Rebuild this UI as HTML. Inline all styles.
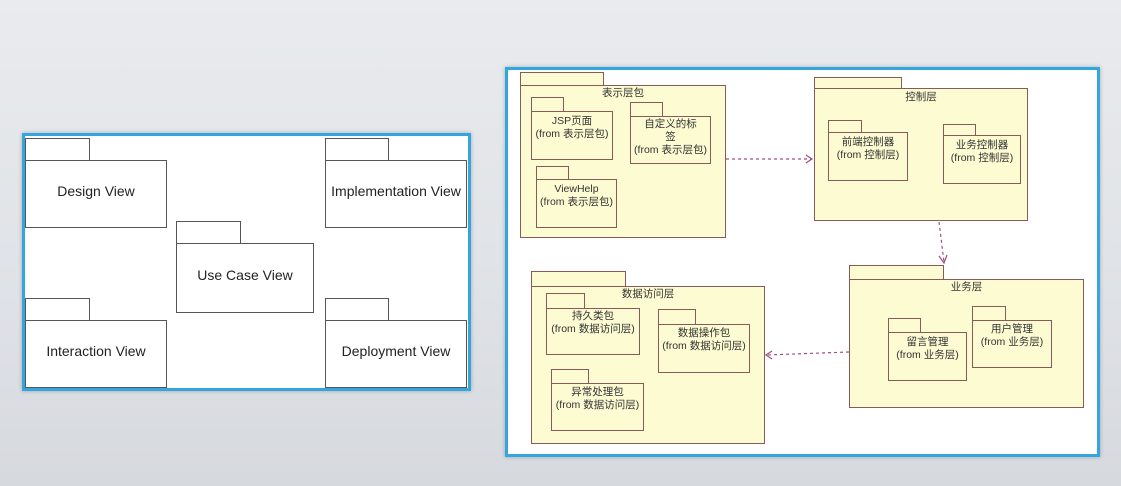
<!DOCTYPE html>
<html><head><meta charset="utf-8"><style>
body{margin:0;width:1121px;height:486px;overflow:hidden;background:linear-gradient(180deg,#e9ebee 0%,#dfe2e6 60%,#d6d9de 100%);font-family:"Liberation Sans","Noto Sans CJK SC",sans-serif;position:relative}
.a{position:absolute;box-sizing:border-box}
.panel{border:3px solid #33a6e0;background:#fff;box-shadow:0 0 4px rgba(0,0,0,.25)}
.g{border:1px solid #555;background:#fff}
.y{border:1px solid #8a5a5a;background:#fcfbd2}
.t{display:flex;align-items:center;justify-content:center;text-align:center;color:#222}
.L{font-size:14px;padding-bottom:6px}
.S{font-size:10.5px;line-height:13px;color:#333}
</style></head><body>
<div class="a panel" style="left:22px;top:133px;width:449px;height:258px"></div>
<div class="a g" style="left:25px;top:138px;width:65px;height:23px"></div>
<div class="a g t L" style="left:25px;top:160px;width:142px;height:68px">Design View</div>
<div class="a g" style="left:325px;top:138px;width:64px;height:23px"></div>
<div class="a g t L" style="left:325px;top:160px;width:142px;height:68px">Implementation View</div>
<div class="a g" style="left:176px;top:221px;width:65px;height:23px"></div>
<div class="a g t L" style="left:176px;top:243px;width:138px;height:70px;border-width:1.5px">Use Case View</div>
<div class="a g" style="left:25px;top:298px;width:65px;height:23px"></div>
<div class="a g t L" style="left:25px;top:320px;width:142px;height:68px">Interaction View</div>
<div class="a g" style="left:325px;top:298px;width:64px;height:23px"></div>
<div class="a g t L" style="left:325px;top:320px;width:142px;height:68px">Deployment View</div>

<div class="a panel" style="left:505px;top:67px;width:595px;height:390px"></div>
<div class="a y" style="left:520px;top:72px;width:84px;height:14px"></div>
<div class="a y" style="left:520px;top:85px;width:206px;height:153px"></div>
<div class="a S" style="left:520px;top:87px;width:206px;text-align:center">表示层包</div>
<div class="a y" style="left:531px;top:97px;width:33px;height:15px"></div>
<div class="a y t S" style="left:531px;top:111px;width:82px;height:49px;align-items:flex-start;padding-top:3px">JSP页面<br>(from 表示层包)</div>
<div class="a y" style="left:630px;top:102px;width:33px;height:15px"></div>
<div class="a y t S" style="left:630px;top:116px;width:81px;height:48px;align-items:flex-start;padding-top:1px">自定义的标<br>签<br>(from 表示层包)</div>
<div class="a y" style="left:536px;top:166px;width:33px;height:14px"></div>
<div class="a y t S" style="left:536px;top:179px;width:81px;height:49px;align-items:flex-start;padding-top:3px">ViewHelp<br>(from 表示层包)</div>
<div class="a y" style="left:814px;top:77px;width:88px;height:12px"></div>
<div class="a y" style="left:814px;top:88px;width:214px;height:133px"></div>
<div class="a S" style="left:814px;top:91px;width:214px;text-align:center">控制层</div>
<div class="a y" style="left:828px;top:120px;width:34px;height:13px"></div>
<div class="a y t S" style="left:828px;top:132px;width:80px;height:49px;align-items:flex-start;padding-top:3px">前端控制器<br>(from 控制层)</div>
<div class="a y" style="left:943px;top:124px;width:33px;height:12px"></div>
<div class="a y t S" style="left:943px;top:135px;width:78px;height:49px;align-items:flex-start;padding-top:3px">业务控制器<br>(from 控制层)</div>
<div class="a y" style="left:849px;top:265px;width:95px;height:15px"></div>
<div class="a y" style="left:849px;top:279px;width:235px;height:129px"></div>
<div class="a S" style="left:849px;top:281px;width:235px;text-align:center">业务层</div>
<div class="a y" style="left:888px;top:318px;width:33px;height:15px"></div>
<div class="a y t S" style="left:888px;top:332px;width:79px;height:49px;align-items:flex-start;padding-top:3px">留言管理<br>(from 业务层)</div>
<div class="a y" style="left:972px;top:306px;width:34px;height:15px"></div>
<div class="a y t S" style="left:972px;top:320px;width:80px;height:48px;align-items:flex-start;padding-top:2px">用户管理<br>(from 业务层)</div>
<div class="a y" style="left:531px;top:271px;width:95px;height:16px"></div>
<div class="a y" style="left:531px;top:286px;width:234px;height:158px"></div>
<div class="a S" style="left:531px;top:288px;width:234px;text-align:center">数据访问层</div>
<div class="a y" style="left:546px;top:293px;width:39px;height:16px"></div>
<div class="a y t S" style="left:546px;top:308px;width:94px;height:47px;align-items:flex-start;padding-top:1px">持久类包<br>(from 数据访问层)</div>
<div class="a y" style="left:658px;top:309px;width:38px;height:16px"></div>
<div class="a y t S" style="left:658px;top:324px;width:92px;height:49px;align-items:flex-start;padding-top:2px">数据操作包<br>(from 数据访问层)</div>
<div class="a y" style="left:551px;top:369px;width:38px;height:15px"></div>
<div class="a y t S" style="left:551px;top:383px;width:93px;height:48px;align-items:flex-start;padding-top:2px">异常处理包<br>(from 数据访问层)</div>
<svg class="a" style="left:0;top:0" width="1121" height="486">
<g stroke="#a05080" stroke-width="1.2" fill="none">
<line x1="726" y1="159" x2="812" y2="159" stroke-dasharray="3,3"/>
<polyline points="806,155 812,159 806,163"/>
<line x1="939" y1="222" x2="944" y2="262" stroke-dasharray="3,3"/>
<polyline points="939,256 944,263 947,255"/>
<line x1="849" y1="352" x2="766" y2="355" stroke-dasharray="3,3"/>
<polyline points="772,351 766,355 772,359"/>
</g></svg>
</body></html>
